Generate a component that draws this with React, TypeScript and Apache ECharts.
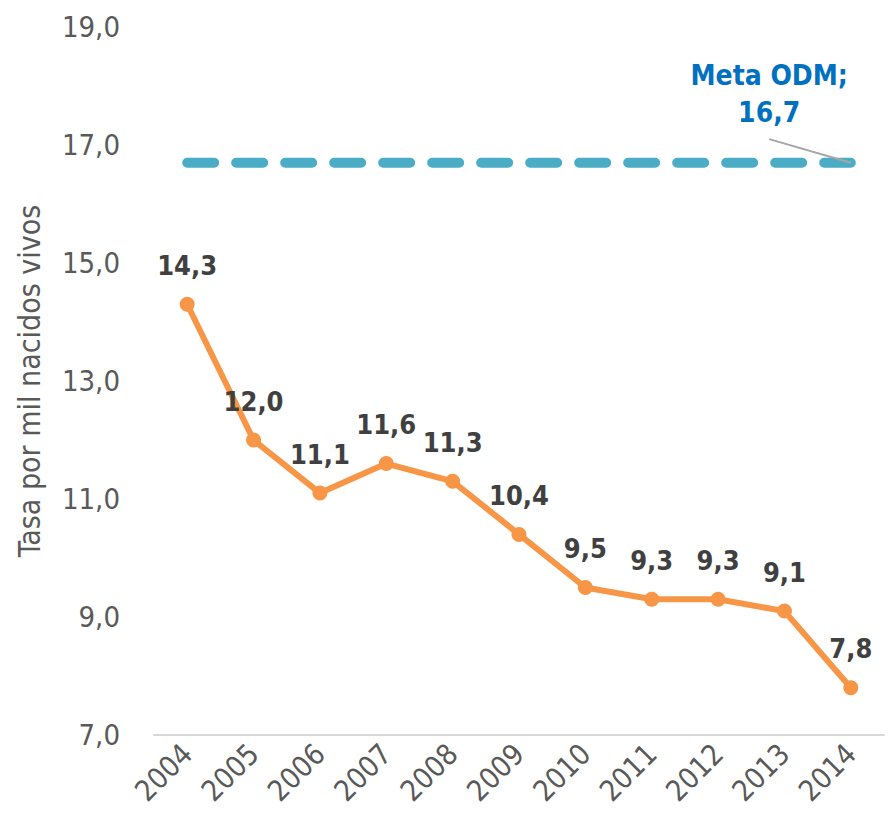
import React, { useEffect, useRef } from "react";
import * as echarts from "echarts";

const years = ["2004", "2005", "2006", "2007", "2008", "2009", "2010", "2011", "2012", "2013", "2014"];
const tasa = [14.3, 12.0, 11.1, 11.6, 11.3, 10.4, 9.5, 9.3, 9.3, 9.1, 7.8];
const metaODM = 16.7;
const metaValues = years.map(() => metaODM);
const yMin = 7;
const yMax = 19;
const yInterval = 2;
// callout leader for "Meta ODM": from the last year's target point to the label anchor
// (x in category-index units, y in rate units)
const calloutLeader = [
  [years.length - 1, metaODM],
  [8.77, 17.1],
];

const fmt = (v: number) => v.toFixed(1).replace(".", ",");
const FONT = "'Liberation Sans Narrow', 'DejaVu Sans Condensed', 'Arial Narrow', sans-serif";

export default function App() {
  const ref = useRef<HTMLDivElement>(null);
  useEffect(() => {
    document.body.style.margin = "0";
    if (!ref.current) return;
    const chart = echarts.init(ref.current, undefined, { renderer: "svg" });
    chart.setOption({
      animation: false,
      backgroundColor: "#ffffff",
      grid: { left: 154, right: 4, top: 27, bottom: 94 },
      xAxis: [
        {
          type: "category",
          data: years,
          boundaryGap: true,
          axisLine: { show: true, lineStyle: { color: "#D9D9D9", width: 2 } },
          axisTick: { show: false },
          axisLabel: {
            rotate: 45,
            fontSize: 29,
            fontFamily: FONT,
            color: "#595959",
            margin: 14,
            interval: 0,
          },
        },
        {
          type: "value",
          min: -0.5,
          max: years.length - 0.5,
          show: false,
        },
      ],
      yAxis: {
        type: "value",
        min: yMin,
        max: yMax,
        interval: yInterval,
        name: "Tasa por mil nacidos vivos",
        nameLocation: "middle",
        nameGap: 110,
        nameTextStyle: { fontSize: 30, fontFamily: FONT, color: "#595959" },
        axisLine: { show: false },
        axisTick: { show: false },
        splitLine: { show: false },
        axisLabel: {
          fontSize: 29,
          fontFamily: FONT,
          color: "#595959",
          margin: 34,
          formatter: (v: number) => fmt(v),
        },
      },
      series: [
        {
          name: "Meta ODM",
          type: "line",
          data: metaValues,
          symbol: "none",
          lineStyle: { color: "#4BACC6", width: 10, type: [27, 22], cap: "round" },
          z: 1,
          emphasis: { disabled: true },
        },
        {
          name: "Meta callout",
          type: "line",
          xAxisIndex: 1,
          data: calloutLeader,
          symbol: "circle",
          symbolSize: 0,
          showSymbol: true,
          silent: true,
          itemStyle: { color: "#A6A6A6" },
          lineStyle: { color: "#A6A6A6", width: 2 },
          z: 2,
          label: {
            show: true,
            position: "top",
            distance: 8,
            formatter: (p: any) => (p.dataIndex === 1 ? "Meta ODM;\n" + fmt(metaODM) : ""),
            fontSize: 28,
            fontWeight: "bold",
            fontFamily: FONT,
            color: "#0070C0",
            lineHeight: 37,
            align: "center",
          },
          emphasis: { disabled: true },
        },
        {
          name: "Tasa",
          type: "line",
          data: tasa,
          symbol: "circle",
          symbolSize: 15,
          itemStyle: { color: "#F79646" },
          lineStyle: { color: "#F79646", width: 6 },
          z: 3,
          label: {
            show: true,
            position: "top",
            distance: 18,
            formatter: (p: any) => fmt(p.value),
            fontSize: 27,
            fontWeight: "bold",
            fontFamily: FONT,
            color: "#404040",
          },
          emphasis: { disabled: true },
        },
      ],
    });
    return () => chart.dispose();
  }, []);
  return <div ref={ref} style={{ width: 888, height: 829 }} />;
}
